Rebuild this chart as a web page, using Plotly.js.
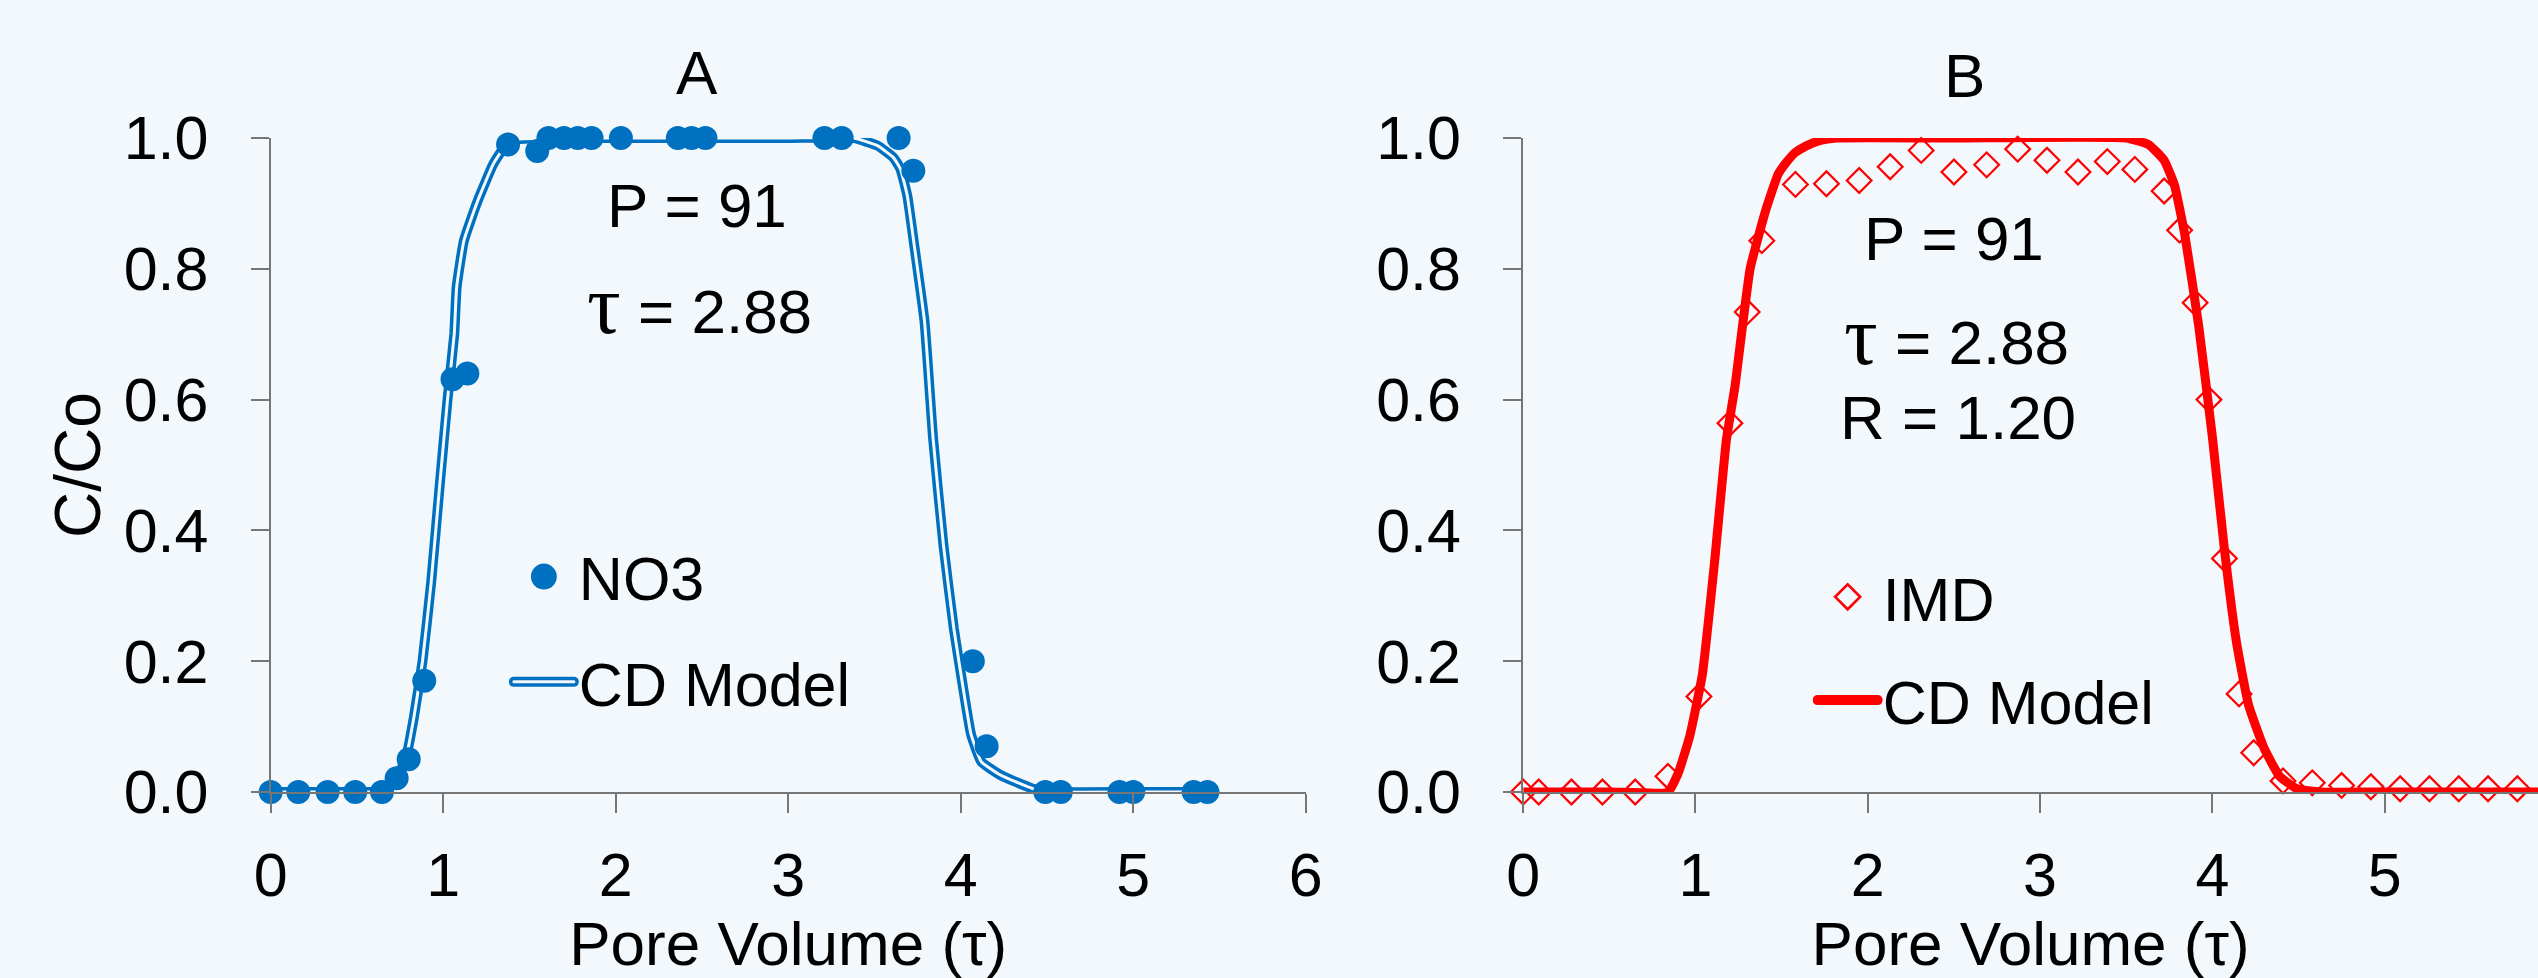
<!DOCTYPE html>
<html>
<head>
<meta charset="utf-8">
<script src="https://cdn.plot.ly/plotly-3.0.1.min.js"></script>
<style>
  html, body { margin: 0; padding: 0; background: #F3F8FD; }
  #chart { width: 2538px; height: 978px; }
</style>
</head>
<body>
<div id="chart"></div>
<script>
// ---- Panel A: NO3 measured data ----
const no3X = [0, 0.16, 0.33, 0.49, 0.645, 0.73, 0.80, 0.89, 1.054, 1.14, 1.376, 1.545, 1.61, 1.70, 1.78, 1.86, 2.03, 2.36, 2.44, 2.52, 3.21, 3.31, 3.64, 3.725, 4.07, 4.15, 4.49, 4.58, 4.92, 5.0, 5.35, 5.43];
const no3Y = [0, 0, 0, 0, 0, 0.021, 0.05, 0.17, 0.631, 0.64, 0.99, 0.98, 1, 1, 1, 1, 1, 1, 1, 1, 1, 1, 1, 0.95, 0.20, 0.07, 0, 0, 0, 0, 0, 0];

// ---- Panel A: CD model curve ----
const cdAX = [0, 0.3, 0.6, 0.66, 0.71, 0.78, 0.83, 0.88, 0.93, 0.98, 1.025, 1.064, 1.078, 1.12, 1.20, 1.29, 1.36, 1.43, 2.0, 3.0, 3.38, 3.52, 3.61, 3.65, 3.69, 3.73, 3.79, 3.84, 3.90, 3.96, 4.02, 4.06, 4.12, 4.23, 4.42, 4.6, 5.0, 5.45];
const cdAY = [0, 0, 0, 0, 0.014, 0.048, 0.114, 0.2, 0.32, 0.47, 0.60, 0.70, 0.772, 0.843, 0.904, 0.96, 0.988, 0.998, 1, 1, 1, 0.988, 0.97, 0.953, 0.912, 0.837, 0.72, 0.54, 0.377, 0.25, 0.149, 0.088, 0.046, 0.026, 0.005, 0, 0, 0];

// ---- Panel B: IMD measured data ----
const imdX = [0, 0.09, 0.28, 0.46, 0.65, 0.84, 1.02, 1.20, 1.30, 1.385, 1.58, 1.76, 1.95, 2.13, 2.31, 2.50, 2.69, 2.87, 3.04, 3.22, 3.39, 3.55, 3.72, 3.81, 3.90, 3.98, 4.07, 4.155, 4.24, 4.41, 4.58, 4.75, 4.92, 5.09, 5.26, 5.43, 5.60, 5.77];
const imdY = [0, 0, 0, 0, 0, 0.024, 0.146, 0.564, 0.734, 0.843, 0.929, 0.930, 0.935, 0.956, 0.981, 0.948, 0.959, 0.983, 0.966, 0.948, 0.964, 0.952, 0.919, 0.859, 0.748, 0.60, 0.357, 0.15, 0.06, 0.017, 0.014, 0.01, 0.008, 0.005, 0.005, 0.005, 0.005, 0.005];

// ---- Panel B: CD model curve ----
const cdBX = [0, 0.5, 0.84, 0.90, 0.967, 1.04, 1.11, 1.18, 1.229, 1.317, 1.407, 1.48, 1.525, 1.58, 1.643, 1.72, 1.82, 2.5, 3.5, 3.63, 3.72, 3.78, 3.84, 3.92, 4.0, 4.07, 4.14, 4.21, 4.30, 4.39, 4.49, 4.63, 5.0, 5.89];
const cdBY = [0, 0, 0, 0.029, 0.086, 0.18, 0.35, 0.54, 0.62, 0.80, 0.889, 0.945, 0.962, 0.978, 0.988, 0.996, 1, 1, 1, 0.99, 0.966, 0.928, 0.852, 0.714, 0.543, 0.371, 0.229, 0.133, 0.067, 0.024, 0.005, 0, 0, 0];

// ---- Labels ----
const panelTitles = ['A', 'B'];
const seriesNames = ['NO3', 'CD Model', 'IMD'];
const yTitle = 'C/Co';
const xTitle = 'Pore Volume (τ)';
const yTickVals = [0, 0.2, 0.4, 0.6, 0.8, 1.0];
const xTickVals = [0, 1, 2, 3, 4, 5, 6];
const TAU = '<span style="font-family:\'Liberation Serif\';font-size:84px">τ</span>';
const paramsA = ['P = 91', TAU + ' = 2.88'];
const paramsB = ['P = 91', TAU + ' = 2.88', 'R = 1.20'];

const BG = '#F3F8FD';
const BLUE = '#0070C0';
const RED = '#FF0000';
const AXC = '#767676';
const FONT = 'Liberation Sans, Arial, sans-serif';
const FS = 61;

const traces = [
  { x: cdAX, y: cdAY, xaxis: 'x', yaxis: 'y', mode: 'lines', name: seriesNames[1],
    line: { color: BLUE, width: 10, shape: 'spline', smoothing: 0.4 }, legend: 'legend', legendgroup: 'a2', legendrank: 2 },
  { x: cdAX, y: cdAY, xaxis: 'x', yaxis: 'y', mode: 'lines', name: seriesNames[1],
    line: { color: BG, width: 3, shape: 'spline', smoothing: 0.4 }, showlegend: false, legendgroup: 'a2' },
  { x: no3X, y: no3Y, xaxis: 'x', yaxis: 'y', mode: 'markers', name: seriesNames[0],
    marker: { color: BLUE, size: 24, symbol: 'circle' }, cliponaxis: false, legend: 'legend', legendgroup: 'a1', legendrank: 1 },
  { x: imdX, y: imdY, xaxis: 'x2', yaxis: 'y2', mode: 'markers', name: seriesNames[2],
    marker: { color: RED, size: 19, symbol: 'diamond-open', line: { color: RED, width: 2.2 } }, cliponaxis: false, legend: 'legend2', legendgroup: 'b1', legendrank: 1 },
  { x: cdBX, y: cdBY, xaxis: 'x2', yaxis: 'y2', mode: 'lines', name: seriesNames[1],
    line: { color: RED, width: 9, shape: 'spline', smoothing: 0.4 }, legend: 'legend2', legendgroup: 'b2', legendrank: 2 }
];

function xAx(domain, range) {
  return {
    domain: domain, range: range, tickvals: xTickVals, ticktext: xTickVals.map(String),
    showgrid: false, zeroline: false, showline: true, linecolor: AXC, linewidth: 2,
    ticks: 'outside', ticklen: 19, tickwidth: 2, tickcolor: AXC,
    tickfont: { family: FONT, size: FS, color: '#000' }, ticklabelstandoff: 10,
    title: { text: xTitle, font: { family: FONT, size: 62, color: '#000' }, standoff: 20 },
    fixedrange: true
  };
}
function yAx(anchor, withTitle) {
  const o = {
    anchor: anchor, domain: [0, 1], range: [0, 1], tickvals: yTickVals, ticktext: yTickVals.map(v => v.toFixed(1)),
    showgrid: false, zeroline: false, showline: true, linecolor: AXC, linewidth: 2,
    ticks: 'outside', ticklen: 18, tickwidth: 2, tickcolor: AXC,
    tickfont: { family: FONT, size: FS, color: '#000' }, ticklabelstandoff: 30,
    fixedrange: true
  };
  if (withTitle) o.title = { text: yTitle, font: { family: FONT, size: 64, color: '#000' }, standoff: 2 };
  return o;
}

const ann = (text, x, y) => ({ text: text, x: x, y: y, xref: 'paper', yref: 'paper', showarrow: false,
  xanchor: 'center', yanchor: 'middle', font: { family: FONT, size: 62, color: '#000' } });

const layout = {
  width: 2538, height: 978,
  margin: { l: 0, r: 0, t: 137.5, b: 185.7, pad: 0 },
  paper_bgcolor: BG, plot_bgcolor: BG,
  showlegend: true,
  xaxis: Object.assign(xAx([0.10666, 0.51448], [0, 6]), { anchor: 'y' }),
  yaxis: yAx('x', true),
  xaxis2: Object.assign(xAx([0.60016, 1], [0, 5.89]), { anchor: 'y2' }),
  yaxis2: yAx('x2', false),
  legend: { x: 0.2005, y: 0.400, xanchor: 'left', yanchor: 'top', bgcolor: 'rgba(0,0,0,0)', itemwidth: 60,
    font: { family: FONT, size: FS, color: '#000' }, tracegroupgap: 23, traceorder: 'grouped' },
  legend2: { x: 0.7142, y: 0.369, xanchor: 'left', yanchor: 'top', bgcolor: 'rgba(0,0,0,0)', itemwidth: 60,
    font: { family: FONT, size: FS, color: '#000' }, tracegroupgap: 21, traceorder: 'grouped' },
  annotations: [
    ann(panelTitles[0], 0.27443, 1.100),
    ann(panelTitles[1], 0.77423, 1.0955),
    ann(paramsA[0], 0.27463, 0.897),
    ann(paramsA[1], 0.27565, 0.745),
    ann(paramsB[0], 0.76990, 0.846),
    ann(paramsB[1], 0.77069, 0.698),
    ann(paramsB[2], 0.77147, 0.572)
  ]
};

Plotly.newPlot('chart', traces, layout, { staticPlot: true, displayModeBar: false }).then(function (gd) {
  // Legend symbols: Plotly caps legend marker size / line width; restore the reference's look.
  const scaleFor = { legend: 1.62, legend2: 1.2 };
  Object.keys(scaleFor).forEach(function (id) {
    const g = gd.querySelector('g.' + id);
    if (!g) return;
    g.querySelectorAll('.legendpoints path.scatterpts').forEach(function (p) {
      const t = p.getAttribute('transform') || '';
      p.setAttribute('transform', t + ' scale(' + scaleFor[id] + ')');
    });
    g.querySelectorAll('.legendlines path.js-line').forEach(function (p) {
      p.style.strokeWidth = '10px';
      p.style.strokeLinecap = 'round';
      if (id === 'legend') {
        const inner = p.cloneNode(true);
        inner.style.stroke = BG;
        inner.style.strokeWidth = '3px';
        p.parentNode.appendChild(inner);
      }
    });
  });
});
</script>
</body>
</html>
